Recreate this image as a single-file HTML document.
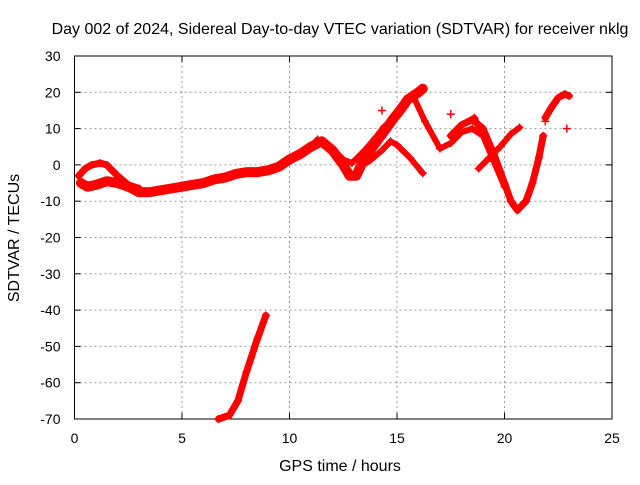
<!DOCTYPE html>
<html><head><meta charset="utf-8"><style>
body{margin:0;background:#fff}
svg text{font-family:"Liberation Sans",sans-serif;font-size:14px;fill:#000}
svg text.big{font-size:16px}
</style></head><body>
<svg id="chart" width="640" height="480" viewBox="0 0 640 480" xmlns="http://www.w3.org/2000/svg">
<rect width="640" height="480" fill="#fff"/>
<text class="big" x="340" y="34" text-anchor="middle">Day 002 of 2024, Sidereal Day-to-day VTEC variation (SDTVAR) for receiver nklg</text>
<g id="grid"></g>
<g id="axes"></g>
<g id="marks"></g>
<text class="big" x="340" y="471" text-anchor="middle">GPS time / hours</text>
<text class="big" transform="translate(19,238) rotate(-90)" text-anchor="middle">SDTVAR / TECUs</text>
</svg>
<script>
const xTicks=[0,5,10,15,20,25];
const yTicks=[30,20,10,0,-10,-20,-30,-40,-50,-60,-70];
const track1=[[0.3,-5],[0.6,-6],[1,-5.5],[1.5,-4.5],[2,-5],[2.5,-6],[3,-7.5],[3.5,-7.5],[4,-7],[4.5,-6.5],[5,-6],[5.5,-5.5],[6,-5],[6.5,-4],[7,-3.5],[7.5,-2.5],[8,-2],[8.5,-2],[9,-1.5],[9.5,-0.5],[10,1.5],[10.5,3],[11,5],[11.5,6.5],[12,4],[12.5,0],[12.8,-3],[13.1,-3],[13.5,2],[14,6],[14.5,10],[14.8,12.5],[15.2,15.5],[15.5,18],[16,20],[16.2,21]];
const track2=[[0.2,-3],[0.5,-1],[0.8,0],[1.2,0.5],[1.5,0],[2,-3],[2.5,-5.5],[3,-6.5]];
const track3=[[11.3,7],[12,4.5],[12.5,1.5],[12.9,0.5],[13.5,4],[14,7.5],[14.4,10.5]];
const track4=[[13.2,-1],[13.8,1.5],[14.3,4],[14.7,6.5],[15,5.5],[15.6,2],[16.2,-2.3]];
const track5=[[15.75,19],[16.3,12],[17,4.5],[17.5,6],[18,9],[18.5,10],[19,8]];
const track6=[[17.5,8],[18,11],[18.5,12.5],[19,10],[19.5,3],[20,-5],[20.3,-10],[20.6,-12.5],[21,-10],[21.3,-5],[21.6,2],[21.8,8]];
const track7=[[21.9,13],[22.2,16],[22.5,18.5],[22.8,19.5],[23,19]];
const track8=[[18.8,-1],[19.3,2],[19.8,5],[20.3,8.5],[20.7,10.3]];
const track9=[[18.6,13],[19,8],[19.5,1],[20,-6]];
const track10=[[6.7,-70],[7.2,-69],[7.6,-65],[8,-57],[8.5,-48],[8.9,-41.5]];
const singles=[[22.9,10],[21.9,12],[17.5,14],[14.3,15]];
const tracks=[track1,track2,track3,track4,track5,track6,track7,track8,track9,track10];
const widths=[10,7,6,6,6,7,7,6,6,7];

const X0=74.5,X1=612,Y0=56,Y1=419;
const sx=h=>X0+(h-0)/(25-0)*(X1-X0);
const sy=v=>Y0+(30-v)/(30-(-70))*(Y1-Y0);
const NS="http://www.w3.org/2000/svg";
const mk=(t,a,p)=>{const e=document.createElementNS(NS,t);for(const k in a)e.setAttribute(k,a[k]);p.appendChild(e);return e;};
const grid=document.getElementById('grid'),axes=document.getElementById('axes'),marks=document.getElementById('marks');
xTicks.forEach(t=>{
 const x=sx(t);
 if(t>0&&t<25){const l=mk('line',{x1:x,x2:x,y1:Y0,y2:Y1,stroke:'#999','stroke-dasharray':'2,3'},grid);
 
 }
 mk('line',{x1:x,x2:x,y1:Y1,y2:Y1-6,stroke:'#000'},axes);
 mk('line',{x1:x,x2:x,y1:Y0,y2:Y0+6,stroke:'#000'},axes);
 const tx=mk('text',{x:x,y:Y1+24,'text-anchor':'middle'},axes);tx.textContent=t;
 
 
});
yTicks.forEach(t=>{
 const y=sy(t);
 if(t<30&&t>-70){const l=mk('line',{x1:X0,x2:X1,y1:y,y2:y,stroke:'#999','stroke-dasharray':'2,3'},grid);
 
 }
 mk('line',{x1:X0,x2:X0+6,y1:y,y2:y,stroke:'#000'},axes);
 mk('line',{x1:X1,x2:X1-6,y1:y,y2:y,stroke:'#000'},axes);
 const tx=mk('text',{x:X0-14,y:y+5,'text-anchor':'end'},axes);tx.textContent=t;
 
 
});
mk('rect',{x:X0,y:Y0,width:X1-X0,height:Y1-Y0,fill:'none',stroke:'#000'},axes);
function plus(x,y){
 const p=mk('path',{d:`M${x-4},${y}h8M${x},${y-4}v8`,stroke:'#f00','stroke-width':1.5},marks);
 
 
}
tracks.forEach((tr,i)=>{
 const pl=mk('polyline',{points:tr.map(p=>sx(p[0])+','+sy(p[1])).join(' '),fill:'none',stroke:'#f00','stroke-width':widths[i],'stroke-linejoin':'round','stroke-linecap':'round'},marks);
 
 
 tr.forEach(p=>plus(sx(p[0]),sy(p[1])));
});
singles.forEach(p=>plus(sx(p[0]),sy(p[1])));
</script>
</body></html>
